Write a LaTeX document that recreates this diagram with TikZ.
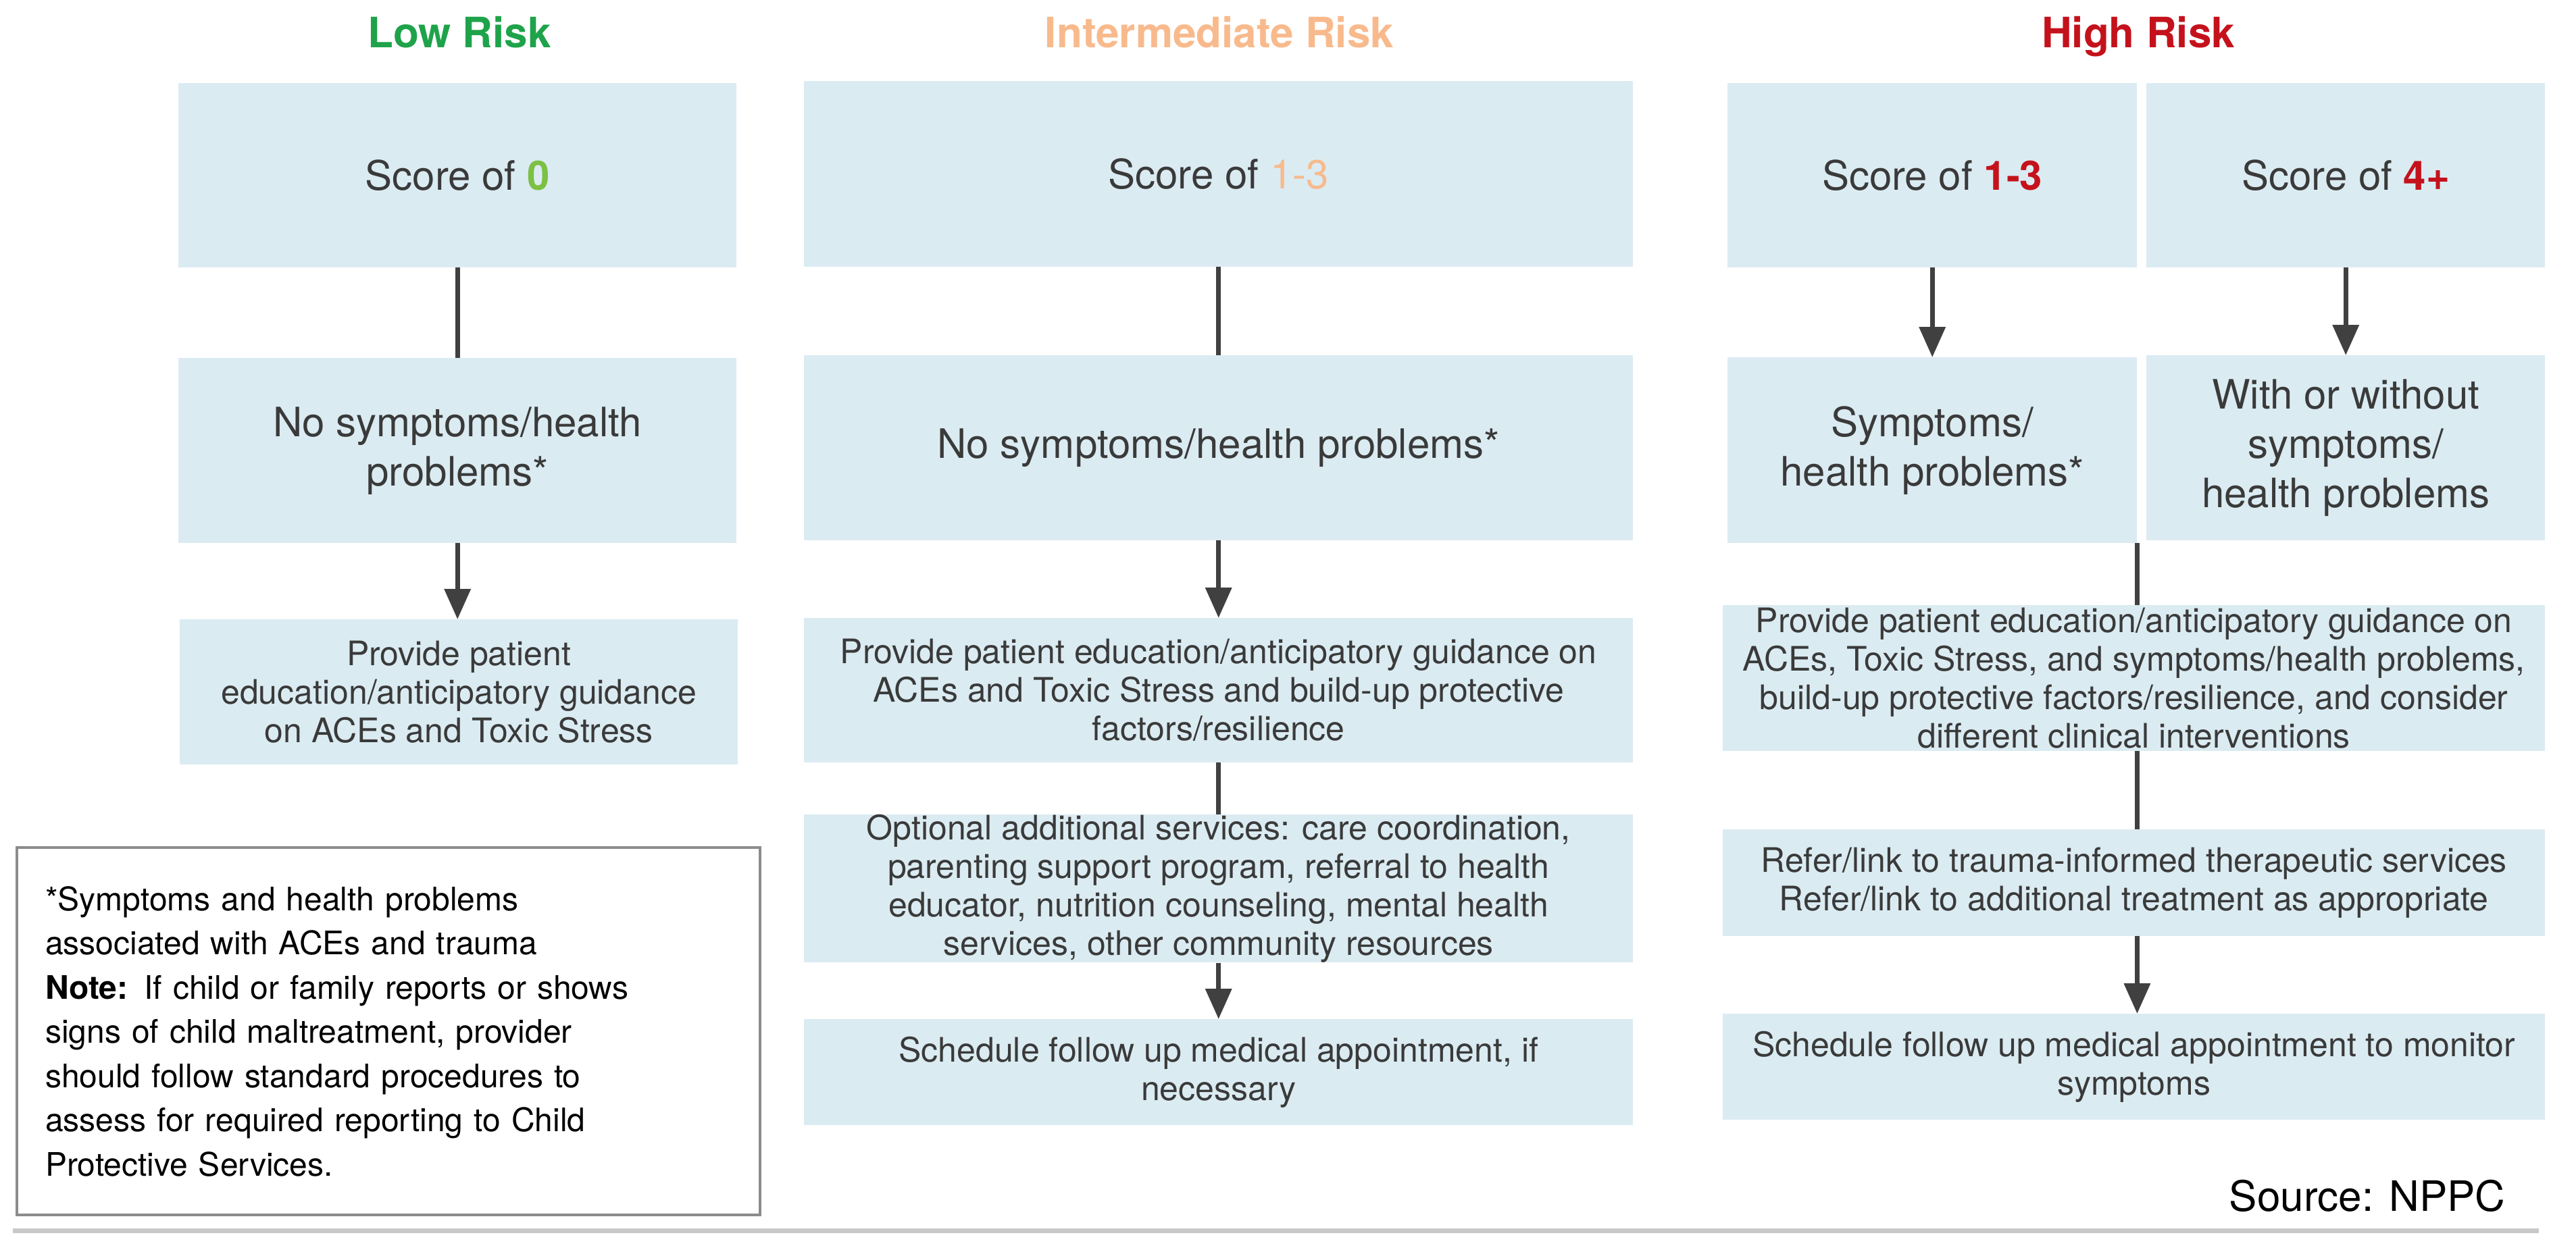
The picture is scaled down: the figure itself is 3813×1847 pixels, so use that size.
\documentclass[tikz,border=0pt]{standalone}
\usepackage{fontspec}
\setmainfont{TeX Gyre Heros}
\usetikzlibrary{arrows.meta}
\definecolor{boxblue}{RGB}{219,235,242}
\definecolor{txt}{RGB}{58,58,58}
\definecolor{arr}{RGB}{64,64,64}
\definecolor{lowgreen}{RGB}{30,163,74}
\definecolor{zerogreen}{RGB}{124,192,68}
\definecolor{peach}{RGB}{248,186,140}
\definecolor{hired}{RGB}{196,18,28}
\definecolor{notegray}{RGB}{140,140,140}
\definecolor{rulegray}{RGB}{200,200,200}
\tikzset{
  box/.style={fill=boxblue, draw=none, inner sep=0pt, align=center, text=txt, anchor=north west},
  bigtxt/.style={font=\fontsize{60}{73}\selectfont},
  smalltxt/.style={font=\fontsize{50}{57}\selectfont},
  title/.style={font=\fontsize{62}{70}\selectfont\bfseries, anchor=base},
  conn/.style={draw=arr, line width=7pt},
  arrowconn/.style={draw=arr, line width=7pt, -{Triangle[width=38pt,length=45pt]}},
}
\begin{document}
\begin{tikzpicture}[x=1pt,y=-1pt]
\useasboundingbox (0,0) rectangle (3813,1847);

% titles
\node[title, text=lowgreen] (tlow) at (680,70) {Low Risk};
\node[title, text=peach] (tint) at (1805,70) {Intermediate Risk};
\node[title, text=hired] (thigh) at (3165,70) {High Risk};

% low risk column
\node[box, bigtxt, minimum width=826pt, minimum height=273pt] (L1) at (264,123) {Score of \textcolor{zerogreen}{\bfseries 0}};
\node[box, bigtxt, minimum width=826pt, minimum height=274pt] (L2) at (264,530) {No symptoms/health\\problems*};
\node[box, smalltxt, minimum width=826pt, minimum height=215pt] (L3) at (266,917) {Provide patient\\education/anticipatory guidance\\on ACEs and Toxic Stress};

% intermediate column
\node[box, bigtxt, minimum width=1227pt, minimum height=275pt] (I1) at (1190,120) {Score of \textcolor{peach}{1-3}};
\node[box, bigtxt, minimum width=1227pt, minimum height=274pt] (I2) at (1190,526) {No symptoms/health problems*};
\node[box, smalltxt, minimum width=1227pt, minimum height=214pt] (I3) at (1190,915) {Provide patient education/anticipatory guidance on\\ACEs and Toxic Stress and build-up protective\\factors/resilience};
\node[box, smalltxt, minimum width=1227pt, minimum height=212pt] (I4) at (1190,1206) {Optional additional services: care coordination,\\parenting support program, referral to health\\educator, nutrition counseling, mental health\\services, other community resources};
\node[box, smalltxt, minimum width=1227pt, minimum height=157pt] (I5) at (1190,1509) {Schedule follow up medical appointment, if\\necessary};

% high column
\node[box, bigtxt, minimum width=606pt, minimum height=273pt] (H1a) at (2557,123) {Score of \textcolor{hired}{\bfseries 1-3}};
\node[box, bigtxt, minimum width=590pt, minimum height=273pt] (H1b) at (3177,123) {Score of \textcolor{hired}{\bfseries 4+}};
\node[box, bigtxt, minimum width=606pt, minimum height=275pt] (H2a) at (2557,529) {Symptoms/\\health problems*};
\node[box, bigtxt, minimum width=590pt, minimum height=274pt] (H2b) at (3177,526) {With or without\\symptoms/\\health problems};
\node[box, smalltxt, minimum width=1217pt, minimum height=216pt] (H3) at (2550,896) {Provide patient education/anticipatory guidance on\\ACEs, Toxic Stress, and symptoms/health problems,\\build-up protective factors/resilience, and consider\\different clinical interventions};
\node[box, smalltxt, minimum width=1217pt, minimum height=158pt] (H4) at (2550,1228) {Refer/link to trauma-informed therapeutic services\\Refer/link to additional treatment as appropriate};
\node[box, smalltxt, minimum width=1217pt, minimum height=157pt] (H5) at (2550,1501) {Schedule follow up medical appointment to monitor\\symptoms};

% connectors
\draw[conn] (L1.south) -- (L1.south |- L2.north);
\draw[arrowconn] (L2.south) -- (L2.south |- L3.north);
\draw[conn] (I1.south) -- (I1.south |- I2.north);
\draw[arrowconn] (I2.south) -- (I2.south |- I3.north);
\draw[conn] (I3.south) -- (I3.south |- I4.north);
\draw[arrowconn] (I4.south) -- (I4.south |- I5.north);
\draw[arrowconn] (H1a.south) -- (H1a.south |- H2a.north);
\draw[arrowconn] (H1b.south) -- (H1b.south |- H2b.north);
\draw[conn] (H2a.south east) -- (H2a.south east |- H3.north);
\draw[conn] (H3.south -| H2a.east) -- (H2a.east |- H4.north);
\draw[arrowconn] (H4.south -| H2a.east) -- (H2a.east |- H5.north);

% note box
\node[draw=notegray, line width=4pt, anchor=north west, minimum width=1100pt, minimum height=544pt, text width=1016pt, inner sep=42pt, align=left, text=black, font=\fontsize{48}{65.5}\selectfont] (note) at (23,1253) {*Symptoms and health problems\\associated with ACEs and trauma\\\textbf{Note:} If child or family reports or shows\\signs of child maltreatment, provider\\should follow standard procedures to\\assess for required reporting to Child\\Protective Services.};

% source
\node[anchor=base east, text=black, font=\fontsize{62}{70}\selectfont] (src) at (3712,1793) {Source: NPPC};

% bottom rule
\coordinate (rl) at (19,1822);
\coordinate (rr) at (3758,1822);
\draw[draw=rulegray, line width=7pt] (rl) -- (rr);
\end{tikzpicture}
\end{document}
